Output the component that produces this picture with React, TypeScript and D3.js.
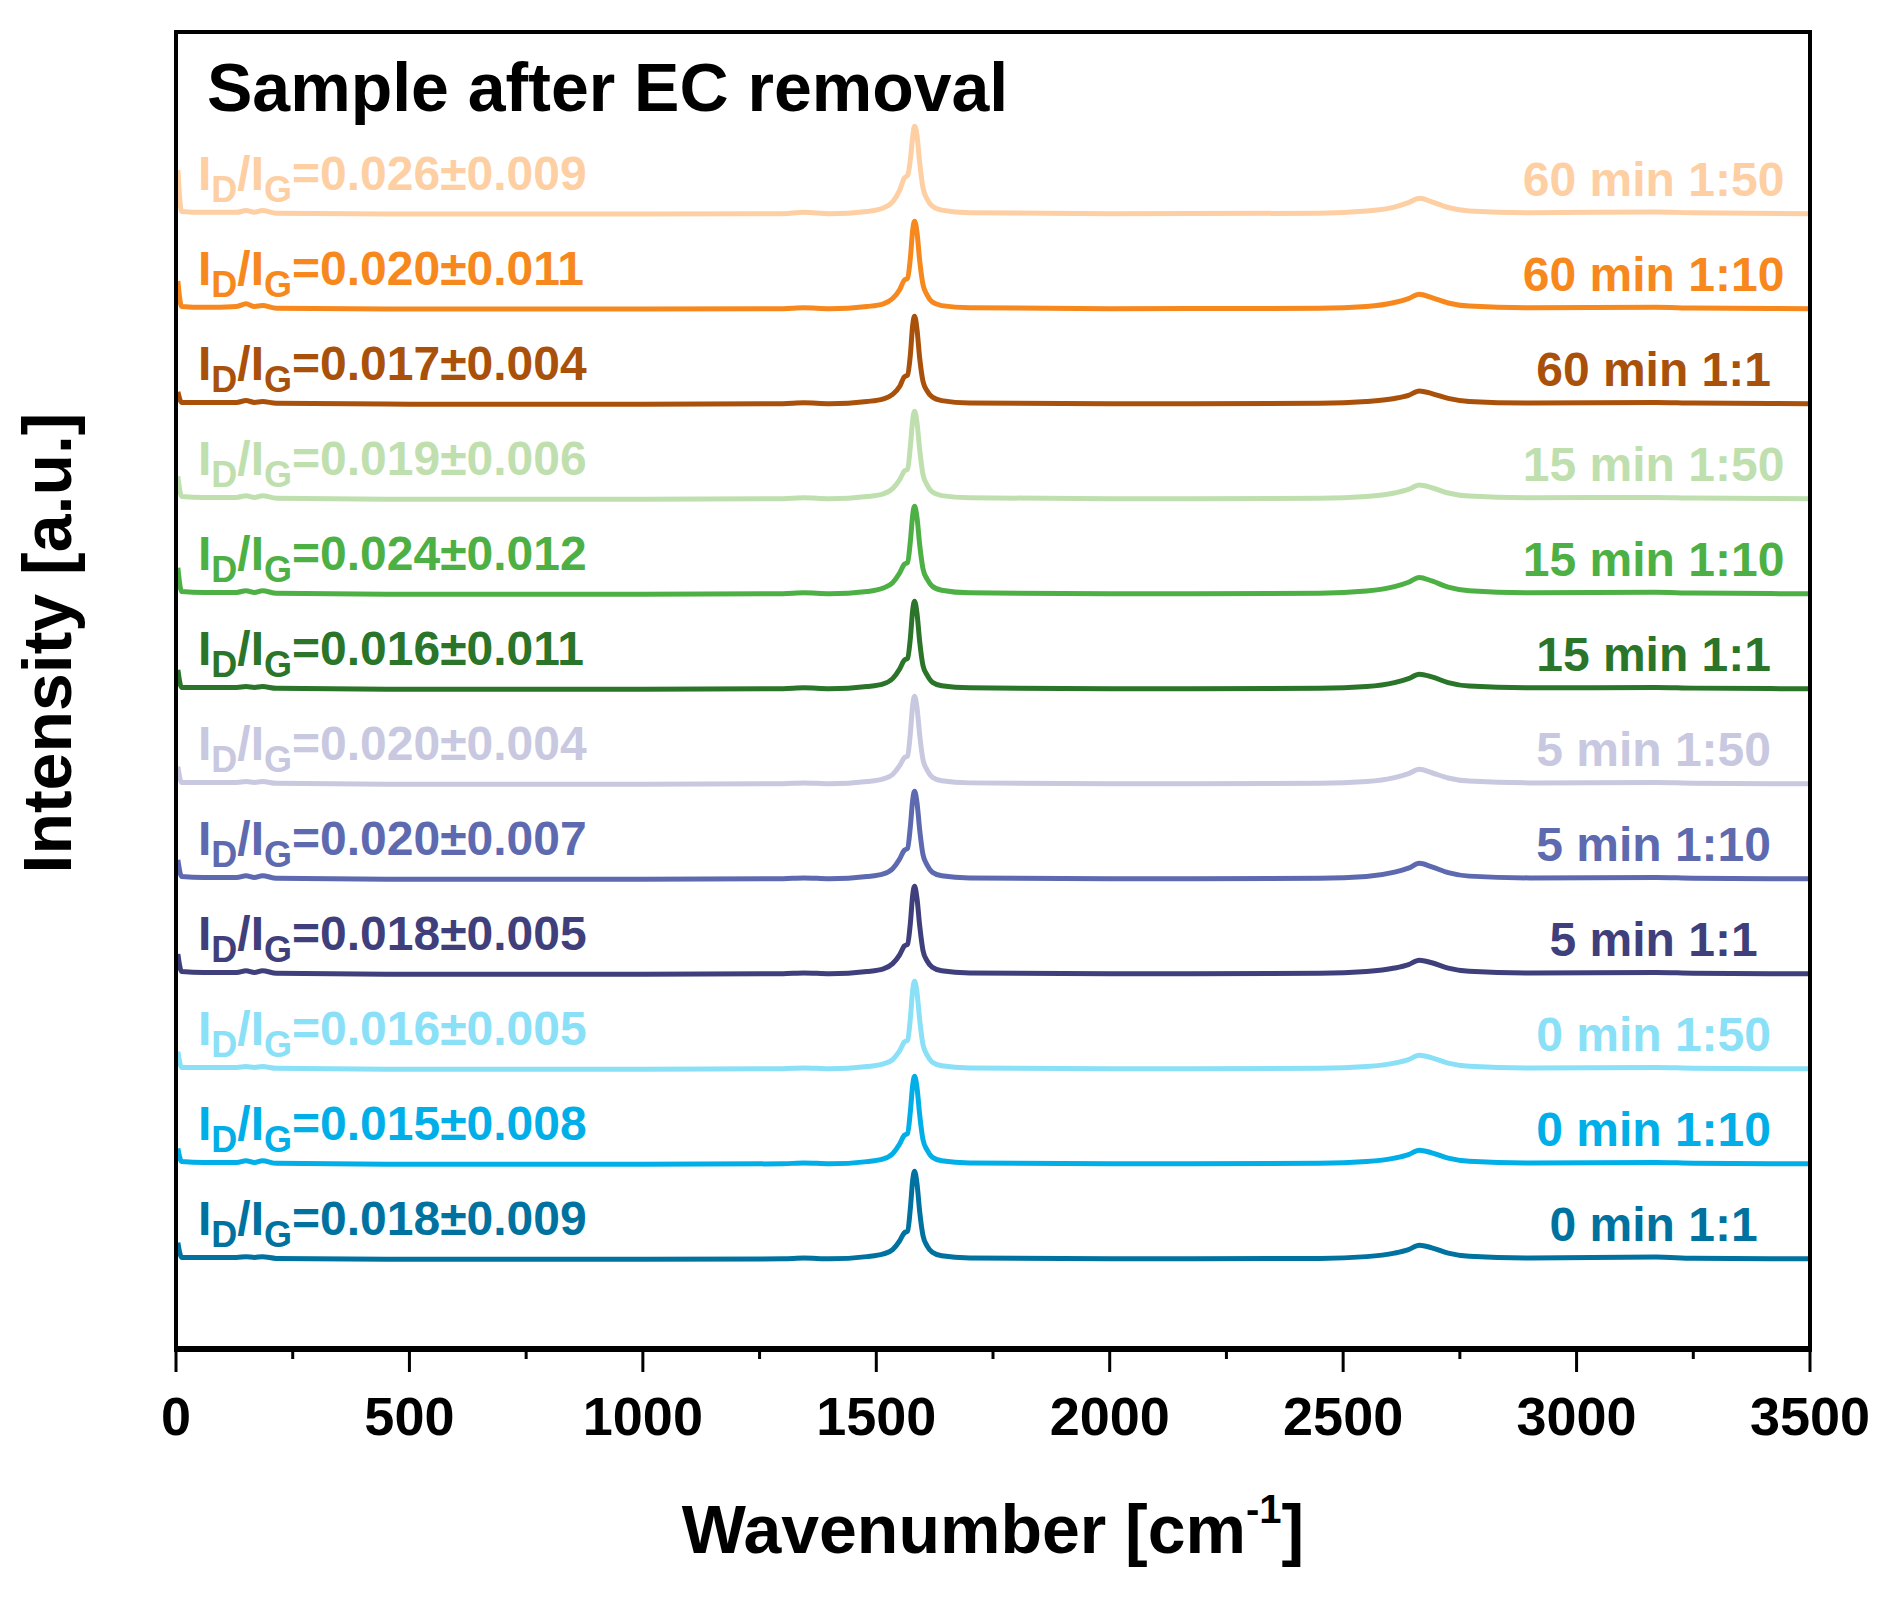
import React from 'react';
import * as d3 from 'd3';

// Raman spectra, normalised to the G band, stacked from top to bottom
const WAVENUMBERS = [
  4, 12, 60, 130, 150, 168, 185, 215, 500, 1000, 1300, 1345, 1400,
  1480, 1515, 1535, 1550, 1560, 1567, 1573, 1578, 1582, 1587, 1593, 1600, 1609, 1620, 1640, 1700,
  2000, 2450, 2550, 2610, 2640, 2663, 2690, 2725, 2770, 2900, 3170, 3250, 3500,
];

const SAMPLES = [
  '60 min 1:50', '60 min 1:10', '60 min 1:1',
  '15 min 1:50', '15 min 1:10', '15 min 1:1',
  '5 min 1:50', '5 min 1:10', '5 min 1:1',
  '0 min 1:50', '0 min 1:10', '0 min 1:1',
];

const RATIOS = [
  '0.026±0.009', '0.020±0.011', '0.017±0.004',
  '0.019±0.006', '0.024±0.012', '0.016±0.011',
  '0.020±0.004', '0.020±0.007', '0.018±0.005',
  '0.016±0.005', '0.015±0.008', '0.018±0.009',
];

const COLORS = [
  '#fdcfa3', '#f7881d', '#a9510a',
  '#bfe0ae', '#4db044', '#2a7529',
  '#c8c8e0', '#5e6ab0', '#3f3f7c',
  '#8ae0f6', '#00aee8', '#0072a0',
];

const I_60_150 = [0.50, 0.03, 0.02, 0.02, 0.04, 0.02, 0.04, 0.01, 0.0, 0.0, 0.005, 0.02, 0.005, 0.03, 0.07, 0.14, 0.27, 0.41, 0.44, 0.62, 0.88, 1.0, 0.9, 0.58, 0.3, 0.17, 0.09, 0.045, 0.015, 0.005, 0.01, 0.035, 0.08, 0.13, 0.18, 0.14, 0.075, 0.035, 0.015, 0.025, 0.015, 0.005];
const I_60_110 = [0.32, 0.03, 0.02, 0.03, 0.06, 0.03, 0.04, 0.01, 0.0, 0.0, 0.005, 0.015, 0.005, 0.03, 0.06, 0.12, 0.22, 0.33, 0.35, 0.58, 0.9, 1.0, 0.88, 0.55, 0.28, 0.16, 0.08, 0.04, 0.015, 0.005, 0.01, 0.03, 0.075, 0.12, 0.17, 0.13, 0.07, 0.035, 0.015, 0.02, 0.012, 0.005];
const I_60_11 = [0.14, 0.02, 0.02, 0.02, 0.04, 0.02, 0.03, 0.01, 0.0, 0.0, 0.005, 0.015, 0.005, 0.03, 0.06, 0.11, 0.2, 0.31, 0.33, 0.56, 0.9, 1.0, 0.86, 0.52, 0.26, 0.15, 0.08, 0.04, 0.012, 0.005, 0.01, 0.03, 0.065, 0.1, 0.15, 0.12, 0.065, 0.03, 0.012, 0.02, 0.012, 0.005];
const I_15_150 = [0.26, 0.03, 0.02, 0.02, 0.04, 0.02, 0.04, 0.01, 0.0, 0.0, 0.005, 0.015, 0.005, 0.03, 0.06, 0.12, 0.22, 0.32, 0.34, 0.6, 0.9, 1.0, 0.88, 0.56, 0.28, 0.16, 0.08, 0.04, 0.015, 0.005, 0.01, 0.03, 0.07, 0.11, 0.16, 0.13, 0.07, 0.035, 0.015, 0.02, 0.012, 0.005];
const I_15_110 = [0.30, 0.03, 0.02, 0.02, 0.04, 0.02, 0.04, 0.01, 0.0, 0.0, 0.005, 0.015, 0.005, 0.03, 0.07, 0.13, 0.24, 0.34, 0.36, 0.6, 0.9, 1.0, 0.88, 0.56, 0.29, 0.17, 0.09, 0.045, 0.015, 0.005, 0.01, 0.035, 0.085, 0.135, 0.19, 0.15, 0.08, 0.04, 0.015, 0.022, 0.012, 0.005];
const I_15_11 = [0.22, 0.02, 0.02, 0.02, 0.03, 0.02, 0.03, 0.01, 0.0, 0.0, 0.005, 0.015, 0.005, 0.03, 0.06, 0.12, 0.23, 0.33, 0.35, 0.58, 0.9, 1.0, 0.87, 0.54, 0.27, 0.16, 0.08, 0.04, 0.015, 0.005, 0.01, 0.03, 0.075, 0.12, 0.17, 0.14, 0.075, 0.035, 0.015, 0.02, 0.012, 0.005];
const I_5_150 = [0.20, 0.02, 0.02, 0.02, 0.03, 0.02, 0.03, 0.01, 0.0, 0.0, 0.005, 0.015, 0.005, 0.03, 0.06, 0.11, 0.21, 0.3, 0.32, 0.58, 0.9, 1.0, 0.88, 0.56, 0.28, 0.16, 0.08, 0.04, 0.015, 0.005, 0.01, 0.03, 0.075, 0.12, 0.17, 0.13, 0.07, 0.035, 0.015, 0.02, 0.012, 0.005];
const I_5_110 = [0.22, 0.03, 0.02, 0.02, 0.04, 0.02, 0.04, 0.01, 0.0, 0.0, 0.005, 0.015, 0.005, 0.03, 0.06, 0.12, 0.23, 0.33, 0.35, 0.6, 0.9, 1.0, 0.88, 0.56, 0.28, 0.16, 0.08, 0.04, 0.015, 0.005, 0.01, 0.03, 0.08, 0.125, 0.18, 0.14, 0.075, 0.035, 0.015, 0.02, 0.012, 0.005];
const I_5_11 = [0.23, 0.03, 0.02, 0.02, 0.04, 0.02, 0.04, 0.01, 0.0, 0.0, 0.005, 0.015, 0.005, 0.03, 0.06, 0.12, 0.22, 0.32, 0.34, 0.58, 0.9, 1.0, 0.87, 0.55, 0.27, 0.15, 0.08, 0.04, 0.015, 0.005, 0.01, 0.03, 0.07, 0.11, 0.16, 0.13, 0.07, 0.035, 0.015, 0.02, 0.012, 0.005];
const I_0_150 = [0.20, 0.02, 0.02, 0.02, 0.03, 0.02, 0.03, 0.01, 0.0, 0.0, 0.005, 0.015, 0.005, 0.03, 0.06, 0.11, 0.21, 0.31, 0.33, 0.58, 0.9, 1.0, 0.88, 0.56, 0.28, 0.16, 0.08, 0.04, 0.015, 0.005, 0.01, 0.03, 0.07, 0.11, 0.16, 0.13, 0.07, 0.035, 0.015, 0.02, 0.012, 0.005];
const I_0_110 = [0.18, 0.03, 0.02, 0.02, 0.04, 0.02, 0.04, 0.01, 0.0, 0.0, 0.005, 0.015, 0.005, 0.03, 0.06, 0.12, 0.23, 0.33, 0.35, 0.6, 0.9, 1.0, 0.88, 0.56, 0.28, 0.16, 0.08, 0.04, 0.015, 0.005, 0.01, 0.03, 0.07, 0.11, 0.16, 0.13, 0.07, 0.035, 0.015, 0.02, 0.012, 0.005];
const I_0_11 = [0.19, 0.02, 0.02, 0.02, 0.03, 0.02, 0.03, 0.01, 0.0, 0.0, 0.005, 0.015, 0.005, 0.03, 0.06, 0.11, 0.21, 0.3, 0.32, 0.58, 0.9, 1.0, 0.87, 0.54, 0.27, 0.15, 0.08, 0.04, 0.015, 0.005, 0.01, 0.03, 0.07, 0.11, 0.16, 0.13, 0.07, 0.035, 0.015, 0.025, 0.012, 0.005];

const SPECTRA = [
  I_60_150, I_60_110, I_60_11,
  I_15_150, I_15_110, I_15_11,
  I_5_150, I_5_110, I_5_11,
  I_0_150, I_0_110, I_0_11,
];

const X_TICKS = [0, 500, 1000, 1500, 2000, 2500, 3000, 3500];
const X_MINOR = [250, 750, 1250, 1750, 2250, 2750, 3250];

const OFFSET = 1.08;
const FONT = '"Liberation Sans", Arial, Helvetica, sans-serif';

const W = 1881;
const H = 1611;
const left = 176;
const right = 1810;
const top = 32;
const bottom = 1349;

const App: React.FC = () => {
  const x = d3.scaleLinear().domain([0, 3500]).range([left, right]);
  const y = d3.scaleLinear().domain([-1.02, 13.95]).range([bottom, top]);
  const n = SPECTRA.length;

  return (
    <svg
      width={W}
      height={H}
      viewBox={`0 0 ${W} ${H}`}
      style={{ position: 'absolute', left: 0, top: 0, background: '#fff' }}
      fontFamily={FONT}
      fontWeight="bold"
    >
      <rect x={0} y={0} width={W} height={H} fill="#fff" />

      {/* spectra */}
      {SPECTRA.map((vals, i) => {
        const base = (n - 1 - i) * OFFSET;
        const line = d3
          .line<number>()
          .x((_, k) => x(WAVENUMBERS[k]))
          .y((v) => y(base + v))
          .curve(d3.curveMonotoneX);
        return (
          <path
            key={SAMPLES[i]}
            d={line(vals) || ''}
            fill="none"
            stroke={COLORS[i]}
            strokeWidth={5}
            strokeLinejoin="round"
          />
        );
      })}

      {/* labels */}
      {SAMPLES.map((s, i) => {
        const yb = y((n - 1 - i) * OFFSET);
        return (
          <g key={s} fill={COLORS[i]}>
            <text x={198} y={yb - 24} fontSize={48}>
              I<tspan fontSize={36} dy={12}>D</tspan>
              <tspan fontSize={48} dy={-12}>/I</tspan>
              <tspan fontSize={36} dy={12}>G</tspan>
              <tspan fontSize={48} dy={-12}>={RATIOS[i]}</tspan>
            </text>
            <text x={x(3165)} y={yb - 18} fontSize={48} textAnchor="middle">
              {s}
            </text>
          </g>
        );
      })}

      {/* frame */}
      <rect
        x={left}
        y={top}
        width={right - left}
        height={bottom - top}
        fill="none"
        stroke="#000"
        strokeWidth={4}
      />
      <line x1={left - 2} x2={right + 2} y1={bottom} y2={bottom} stroke="#000" strokeWidth={6} />

      {/* x axis ticks */}
      {X_TICKS.map((t) => (
        <g key={t}>
          <line x1={x(t)} x2={x(t)} y1={bottom} y2={bottom + 23} stroke="#000" strokeWidth={3} />
          <text x={x(t)} y={1435} fontSize={54} textAnchor="middle" fill="#000">
            {t}
          </text>
        </g>
      ))}
      {X_MINOR.map((t) => (
        <line key={t} x1={x(t)} x2={x(t)} y1={bottom} y2={bottom + 10} stroke="#000" strokeWidth={3} />
      ))}

      {/* titles */}
      <text x={207} y={111} fontSize={68} fill="#000">
        Sample after EC removal
      </text>
      <text x={(left + right) / 2} y={1553} fontSize={68} textAnchor="middle" fill="#000">
        Wavenumber [cm<tspan fontSize={40} dy={-30}>-1</tspan>
        <tspan dy={30}>]</tspan>
      </text>
      <text
        transform={`translate(71, 643) rotate(-90)`}
        fontSize={68}
        textAnchor="middle"
        fill="#000"
      >
        Intensity [a.u.]
      </text>
    </svg>
  );
};

export default App;
